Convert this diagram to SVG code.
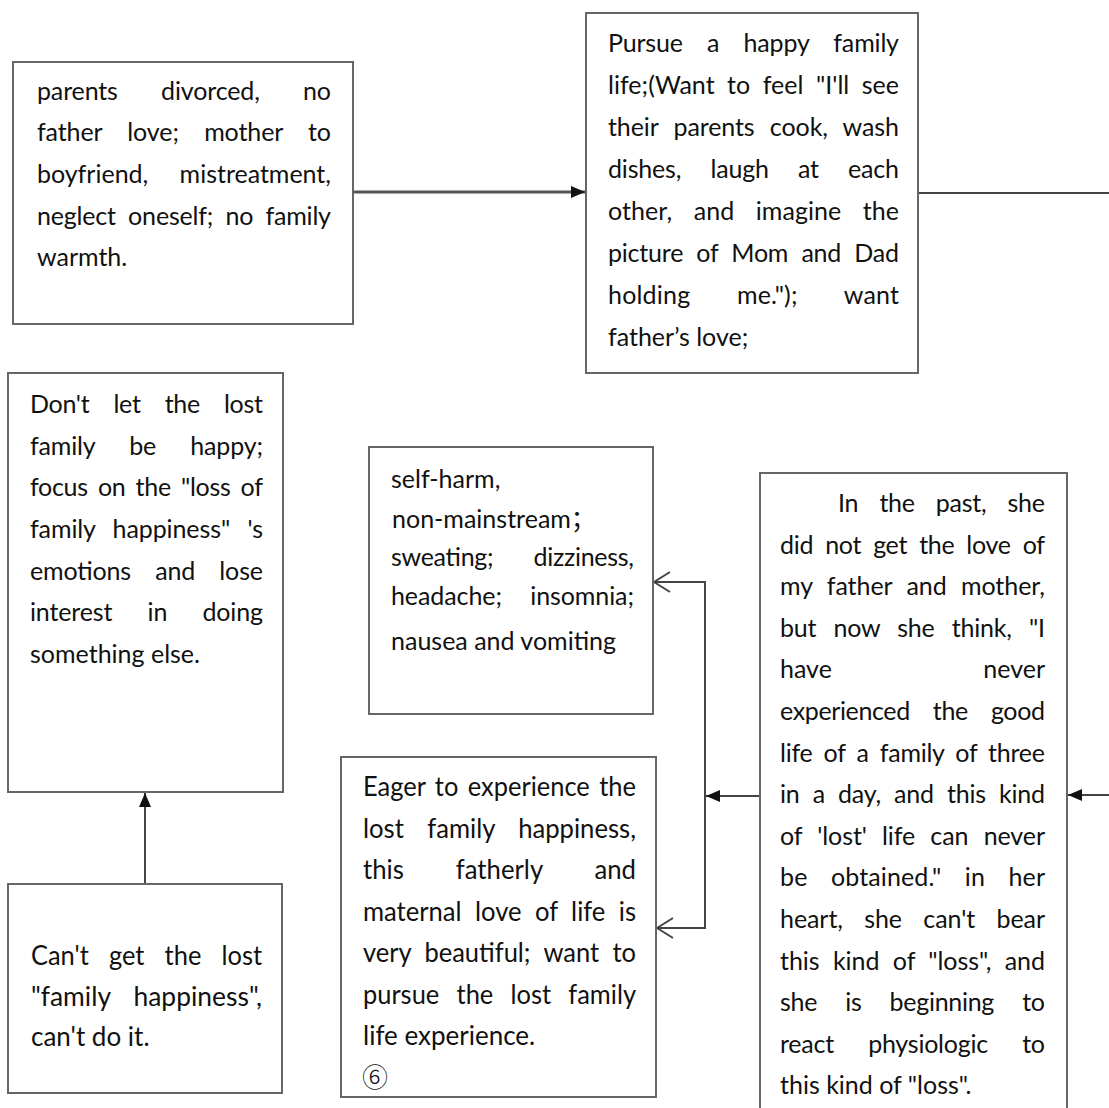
<svg xmlns="http://www.w3.org/2000/svg" width="1109" height="1108" viewBox="0 0 1109 1108">
  <defs>
    <style>
      .box { fill: #ffffff; stroke: #666666; stroke-width: 2; }
      .t { font-family: "Lato", "Noto Sans CJK SC", sans-serif; font-size: 25px; fill: #111111; }
      .tn { font-family: "Lato", "Noto Sans CJK SC", sans-serif; font-size: 26px; fill: #111111; }
      .mark { font-family: "Noto Sans CJK SC", "DejaVu Sans", sans-serif; font-size: 26px; font-weight: 300; fill: #111111; }
      .wire { fill: none; stroke: #444444; stroke-width: 2; }
      .wire-thick { fill: none; stroke: #555555; stroke-width: 3; }
    </style>
    <marker id="head" viewBox="0 0 14 12" refX="14" refY="6" markerWidth="14" markerHeight="12" markerUnits="userSpaceOnUse" orient="auto">
      <path d="M0,0 L14,6 L0,12 z" fill="#111111"/>
    </marker>
    <marker id="chevron" viewBox="-1 -1 18 22" refX="16" refY="10" markerWidth="18" markerHeight="22" markerUnits="userSpaceOnUse" orient="auto">
      <path d="M0,0 L16,10 L0,20" fill="none" stroke="#444444" stroke-width="2"/>
    </marker>
  </defs>

  <rect width="1109" height="1108" fill="#ffffff"/>

  <!-- connectors -->
  <g id="connectors">
    <line class="wire-thick" x1="353" y1="192" x2="585" y2="192" marker-end="url(#head)"/>
    <line class="wire" x1="918" y1="193" x2="1109" y2="193"/>
    <line class="wire" x1="1109" y1="795" x2="1068" y2="795" marker-end="url(#head)"/>
    <line class="wire" x1="760" y1="796" x2="706" y2="796" marker-end="url(#head)"/>
    <line class="wire" x1="705" y1="581" x2="705" y2="929"/>
    <line class="wire" x1="705" y1="582" x2="654" y2="582" marker-end="url(#chevron)"/>
    <line class="wire" x1="705" y1="928" x2="657" y2="928" marker-end="url(#chevron)"/>
    <line class="wire" x1="145" y1="884" x2="145" y2="793" marker-end="url(#head)"/>
  </g>

  <!-- family background -->
  <g id="node-background">
    <rect class="box" x="13" y="62" width="340" height="262"/>
    <text class="t" x="37" y="100" textLength="294" lengthAdjust="spacing" word-spacing="37">parents divorced, no</text>
    <text class="t" x="37" y="141" textLength="294" lengthAdjust="spacing" word-spacing="19">father love; mother to</text>
    <text class="t" x="37" y="183" textLength="294" lengthAdjust="spacing" word-spacing="25">boyfriend, mistreatment,</text>
    <text class="t" x="37" y="225" textLength="294" lengthAdjust="spacing" word-spacing="6">neglect oneself; no family</text>
    <text class="t" x="37" y="266">warmth.</text>
  </g>

  <!-- wish for family life -->
  <g id="node-pursue">
    <rect class="box" x="586" y="13" width="332" height="360"/>
    <text class="t" x="608" y="52" textLength="291" lengthAdjust="spacing" word-spacing="18">Pursue a happy family</text>
    <text class="t" x="608" y="94" textLength="291" lengthAdjust="spacing" word-spacing="6">life;(Want to feel "I'll see</text>
    <text class="t" x="608" y="136" textLength="291" lengthAdjust="spacing" word-spacing="9">their parents cook, wash</text>
    <text class="t" x="608" y="178" textLength="291" lengthAdjust="spacing" word-spacing="23">dishes, laugh at each</text>
    <text class="t" x="608" y="220" textLength="291" lengthAdjust="spacing" word-spacing="15">other, and imagine the</text>
    <text class="t" x="608" y="262" textLength="291" lengthAdjust="spacing" word-spacing="7">picture of Mom and Dad</text>
    <text class="t" x="608" y="304" textLength="291" lengthAdjust="spacing" word-spacing="40">holding me."); want</text>
    <text class="t" x="608" y="346">father’s love;</text>
  </g>

  <!-- focus on the loss -->
  <g id="node-focus">
    <rect class="box" x="8" y="373" width="275" height="419"/>
    <text class="t" x="30" y="413" textLength="233" lengthAdjust="spacing" word-spacing="18">Don't let the lost</text>
    <text class="t" x="30" y="455" textLength="233" lengthAdjust="spacing" word-spacing="28">family be happy;</text>
    <text class="t" x="30" y="496" textLength="233" lengthAdjust="spacing" word-spacing="4">focus on the "loss of</text>
    <text class="t" x="30" y="538" textLength="233" lengthAdjust="spacing" word-spacing="11">family happiness" 's</text>
    <text class="t" x="30" y="580" textLength="233" lengthAdjust="spacing" word-spacing="18">emotions and lose</text>
    <text class="t" x="30" y="621" textLength="233" lengthAdjust="spacing" word-spacing="29">interest in doing</text>
    <text class="t" x="30" y="663">something else.</text>
  </g>

  <!-- unattainable happiness -->
  <g id="node-cannot">
    <rect class="box" x="8" y="884" width="274" height="209"/>
    <text class="tn" x="31" y="965" textLength="231" lengthAdjust="spacingAndGlyphs" word-spacing="14">Can't get the lost</text>
    <text class="tn" x="31" y="1006" textLength="231" lengthAdjust="spacingAndGlyphs" word-spacing="16">"family happiness",</text>
    <text class="tn" x="31" y="1046">can't do it.</text>
  </g>

  <!-- symptoms -->
  <g id="node-symptoms">
    <rect class="box" x="369" y="447" width="284" height="267"/>
    <text class="t" x="391" y="488">self-harm,</text>
    <text class="t" x="392" y="528">non-mainstream；</text>
    <text class="t" x="391" y="566" textLength="243" lengthAdjust="spacing" word-spacing="34">sweating; dizziness,</text>
    <text class="t" x="391" y="605" textLength="243" lengthAdjust="spacing" word-spacing="22">headache; insomnia;</text>
    <text class="t" x="391" y="650">nausea and vomiting</text>
  </g>

  <!-- eagerness -->
  <g id="node-eager">
    <rect class="box" x="341" y="757" width="315" height="340"/>
    <text class="tn" x="363" y="796" textLength="273" lengthAdjust="spacingAndGlyphs" word-spacing="3">Eager to experience the</text>
    <text class="tn" x="363" y="838" textLength="273" lengthAdjust="spacingAndGlyphs" word-spacing="17">lost family happiness,</text>
    <text class="tn" x="363" y="879" textLength="273" lengthAdjust="spacingAndGlyphs" word-spacing="46">this fatherly and</text>
    <text class="tn" x="363" y="921" textLength="273" lengthAdjust="spacingAndGlyphs" word-spacing="7">maternal love of life is</text>
    <text class="tn" x="363" y="962" textLength="273" lengthAdjust="spacingAndGlyphs" word-spacing="7">very beautiful; want to</text>
    <text class="tn" x="363" y="1004" textLength="273" lengthAdjust="spacingAndGlyphs" word-spacing="11">pursue the lost family</text>
    <text class="tn" x="363" y="1045">life experience.</text>
    <text class="mark" x="362" y="1087">⑥</text>
  </g>

  <!-- sense of loss -->
  <g id="node-loss">
    <rect class="box" x="760" y="473" width="307" height="700"/>
    <text class="t" x="838" y="512" textLength="207" lengthAdjust="spacing" word-spacing="15">In the past, she</text>
    <text class="t" x="780" y="554" textLength="265" lengthAdjust="spacing" word-spacing="6">did not get the love of</text>
    <text class="t" x="780" y="595" textLength="265" lengthAdjust="spacing" word-spacing="8">my father and mother,</text>
    <text class="t" x="780" y="637" textLength="265" lengthAdjust="spacing" word-spacing="11">but now she think, "I</text>
    <text class="t" x="780" y="678">have</text>
    <text class="t" x="1045" y="678" text-anchor="end">never</text>
    <text class="t" x="780" y="720" textLength="265" lengthAdjust="spacing" word-spacing="17">experienced the good</text>
    <text class="t" x="780" y="762" textLength="265" lengthAdjust="spacing" word-spacing="5">life of a family of three</text>
    <text class="t" x="780" y="803" textLength="265" lengthAdjust="spacing" word-spacing="7">in a day, and this kind</text>
    <text class="t" x="780" y="845" textLength="265" lengthAdjust="spacing" word-spacing="9">of 'lost' life can never</text>
    <text class="t" x="780" y="886" textLength="265" lengthAdjust="spacing" word-spacing="17">be obtained." in her</text>
    <text class="t" x="780" y="928" textLength="265" lengthAdjust="spacing" word-spacing="15">heart, she can't bear</text>
    <text class="t" x="780" y="970" textLength="265" lengthAdjust="spacing" word-spacing="7">this kind of "loss", and</text>
    <text class="t" x="780" y="1011" textLength="265" lengthAdjust="spacing" word-spacing="22">she is beginning to</text>
    <text class="t" x="780" y="1053" textLength="265" lengthAdjust="spacing" word-spacing="28">react physiologic to</text>
    <text class="t" x="780" y="1094">this kind of "loss".</text>
  </g>
</svg>
